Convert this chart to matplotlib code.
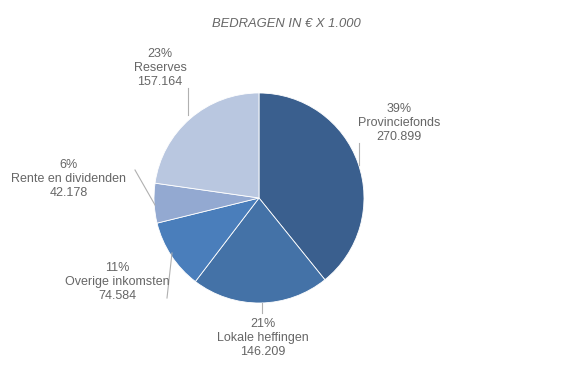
import numpy as np
import matplotlib
matplotlib.use("Agg")
import matplotlib.pyplot as plt

labels = ["Provinciefonds", "Lokale heffingen", "Overige inkomsten",
          "Rente en dividenden", "Reserves"]
values = [270899, 146209, 74584, 42178, 157164]
value_text = ["270.899", "146.209", "74.584", "42.178", "157.164"]
colors = ["#3a5f8e", "#4472a7", "#4a7ebb", "#93a9d1", "#b9c7e0"]
explode = [0, 0, 0, 0, 0.045]

# label text position (pixels) and leader line (pixels)
label_pos = [(399, 123), (263, 338), (117, 282), (69, 179), (160, 68)]
leader = [((359, 143), (359, 165)), ((262, 303), (262, 313)),
          ((172, 253), (167, 298)), ((155, 205), (135, 170)),
          ((188, 115), (188, 88))]

W, H = 561, 370
plt.rcParams['font.family'] = ['Liberation Sans', 'DejaVu Sans']
fig = plt.figure(figsize=(W / 100, H / 100), dpi=100)
ax = fig.add_axes([0, 0, 1, 1])
ax.set_xlim(0, W)
ax.set_ylim(0, H)
ax.set_aspect('equal')
ax.axis('off')

cx, cy, r = 259, H - 198, 105
ax.pie(values, colors=colors, explode=explode, startangle=90,
       counterclock=False, center=(cx, cy), radius=r,
       wedgeprops=dict(edgecolor='white', linewidth=0.6))
ax.set_xlim(0, W)
ax.set_ylim(0, H)

total = sum(values)
tc = "#666666"
for lab, v, vt, (px, py), (p1, p2) in zip(labels, values, value_text, label_pos, leader):
    pct = "%d%%" % round(100 * v / total)
    ax.text(px, H - py, pct + "\n" + lab + "\n" + vt, ha='center', va='center',
            color=tc, fontsize=9, linespacing=1.2)
    ax.plot([p1[0], p2[0]], [H - p1[1], H - p2[1]], color="#b0b0b0", lw=0.8)

ax.text(W / 2 + 6, H - 24, "BEDRAGEN IN € X 1.000", ha='center', va='center',
        color=tc, fontsize=9.4, style='italic')

fig.savefig("out.png", dpi=100)
